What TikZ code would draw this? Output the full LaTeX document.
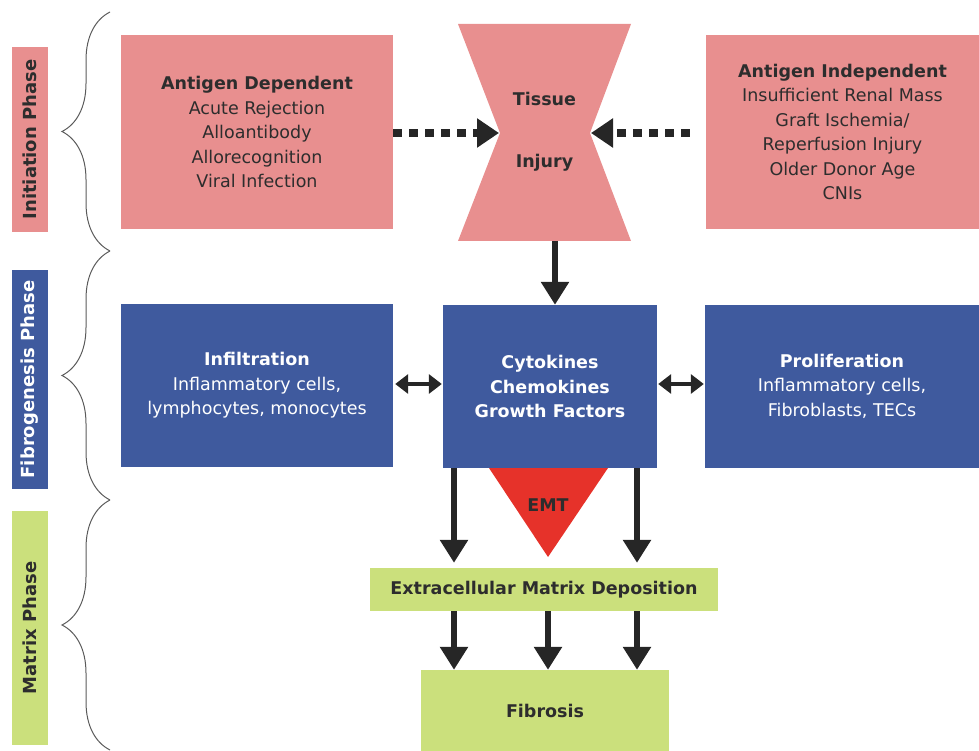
\documentclass[tikz,border=0pt]{standalone}
\usepackage{fontspec}
\setmainfont{DejaVu Sans}
\usetikzlibrary{arrows.meta}
\usetikzlibrary{decorations.pathreplacing}
\usetikzlibrary{positioning}
\definecolor{mpink}{RGB}{232,143,143}
\definecolor{mblue}{RGB}{63,90,158}
\definecolor{mgreen}{RGB}{203,224,124}
\definecolor{mred}{RGB}{230,50,42}
\definecolor{mdark}{RGB}{38,38,38}
\definecolor{mtext}{RGB}{45,45,45}
\definecolor{mbrace}{RGB}{90,90,90}

\tikzset{
  box/.style={inner sep=0pt, align=center, font=\fontsize{17.5}{24.5}\selectfont},
  pinkbox/.style={box, fill=mpink, text=mtext},
  bluebox/.style={box, fill=mblue, text=white},
  greenbox/.style={box, fill=mgreen, text=mtext},
  phase/.style={inner sep=0pt, rotate=90, minimum height=36pt, font=\fontsize{18}{20}\selectfont\bfseries},
  bigarrow/.style={draw=mdark, line width=6.5pt, -{Triangle[length=23pt,width=27pt]}},
  duoarrow/.style={draw=mdark, line width=4.5pt, {Triangle[length=13pt,width=19pt]}-{Triangle[length=13pt,width=19pt]}},
  dotarrow/.style={draw=mdark, line width=8pt, dash pattern=on 9pt off 7pt, -{Triangle[length=22pt,width=28pt]}},
  phasebrace/.style={draw=mbrace, line width=1pt, decorate, decoration={brace, amplitude=48pt}},
}

\begin{document}
\begin{tikzpicture}[x=1pt, y=-1pt]
      \useasboundingbox (0, 0) rectangle (979, 751);

      % phase labels and braces
      \node [phase, fill=mpink, text=mtext, minimum width=185pt] (initphase) at (30, 139.5) {Initiation Phase};
      \node [phase, fill=mblue, text=white, minimum width=219pt] (fibphase) at (30, 379.5) {Fibrogenesis Phase};
      \node [phase, fill=mgreen, text=mtext, minimum width=234pt] (matphase) at (30, 628) {Matrix Phase};

      \coordinate (b0) at (110, 12);
      \coordinate (b1) at (110, 251);
      \coordinate (b2) at (110, 500);
      \coordinate (b3) at (110, 750);
      \draw [phasebrace] (b1) -- (b0);
      \draw [phasebrace] (b2) -- (b1);
      \draw [phasebrace] (b3) -- (b2);

      % initiation
      \node [pinkbox, minimum width=272pt, minimum height=194pt] (antdep) at (257, 132)
        {\textbf{Antigen Dependent}\\Acute Rejection\\Alloantibody\\Allorecognition\\Viral Infection};
      \node [pinkbox, minimum width=273pt, minimum height=194pt] (antind) at (842.5, 132)
        {\textbf{Antigen Independent}\\Insufficient Renal Mass\\Graft Ischemia/\\Reperfusion Injury\\Older Donor Age\\CNIs};

      \fill [mpink] (458, 24) -- (631, 24) -- (590, 133) -- (631, 241) -- (458, 241) -- (500, 133) -- cycle;
      \node [box, text=mtext, font=\fontsize{17.5}{24.5}\selectfont\bfseries] (tissue) at (544.5, 131.5) {Tissue\\[38pt]Injury};
      \coordinate (waistL) at (499, 133);
      \coordinate (waistR) at (591, 133);
      \coordinate (hgB) at (555, 241);

      \draw [dotarrow] (antdep.east |- waistL) -- (waistL);
      \draw [dotarrow] (antind.west |- waistR) ++(-16, 0) -- (waistR);

      % fibrogenesis
      \node [bluebox, minimum width=272pt, minimum height=163pt] (infil) at (257, 385.5)
        {\textbf{Infiltration}\\Inflammatory cells,\\lymphocytes, monocytes};
      \node [bluebox, minimum width=214pt, minimum height=163pt, font=\fontsize{17.5}{24.5}\selectfont\bfseries] (cyto) at (550, 386.5)
        {Cytokines\\Chemokines\\Growth Factors};
      \node [bluebox, minimum width=274pt, minimum height=163pt] (prolif) at (842, 386)
        {\textbf{Proliferation}\\Inflammatory cells,\\Fibroblasts, TECs};

      \draw [bigarrow] (hgB) -- (hgB |- cyto.north);
      \draw [duoarrow] ([xshift=2pt]infil.east |- 0, 384) -- ([xshift=-1pt]cyto.west |- 0, 384);
      \draw [duoarrow] ([xshift=1pt]cyto.east |- 0, 384) -- ([xshift=-1pt]prolif.west |- 0, 384);

      % matrix
      \fill [mred] (489, 468) -- (608, 468) -- (548, 557) -- cycle;
      \node [text=mtext, font=\fontsize{17.5}{20}\selectfont\bfseries] (emt) at (548, 505) {EMT};

      \node [greenbox, minimum width=348pt, minimum height=43pt, font=\fontsize{17.5}{20}\selectfont\bfseries] (ecm) at (544, 589.5)
        {Extracellular Matrix Deposition};
      \node [greenbox, minimum width=248pt, minimum height=81pt, font=\fontsize{17.5}{20}\selectfont\bfseries] (fibrosis) at (545, 710.5)
        {Fibrosis};

      \coordinate (colA) at (454, 0);
      \coordinate (colB) at (548, 0);
      \coordinate (colC) at (637, 0);
      \draw [bigarrow, shorten >=5pt] (cyto.south -| colA) -- (ecm.north -| colA);
      \draw [bigarrow, shorten >=5pt] (cyto.south -| colC) -- (ecm.north -| colC);
      \foreach \c in {colA, colB, colC}
        \draw [bigarrow] (ecm.south -| \c) -- (fibrosis.north -| \c);
    \end{tikzpicture}
\end{document}
